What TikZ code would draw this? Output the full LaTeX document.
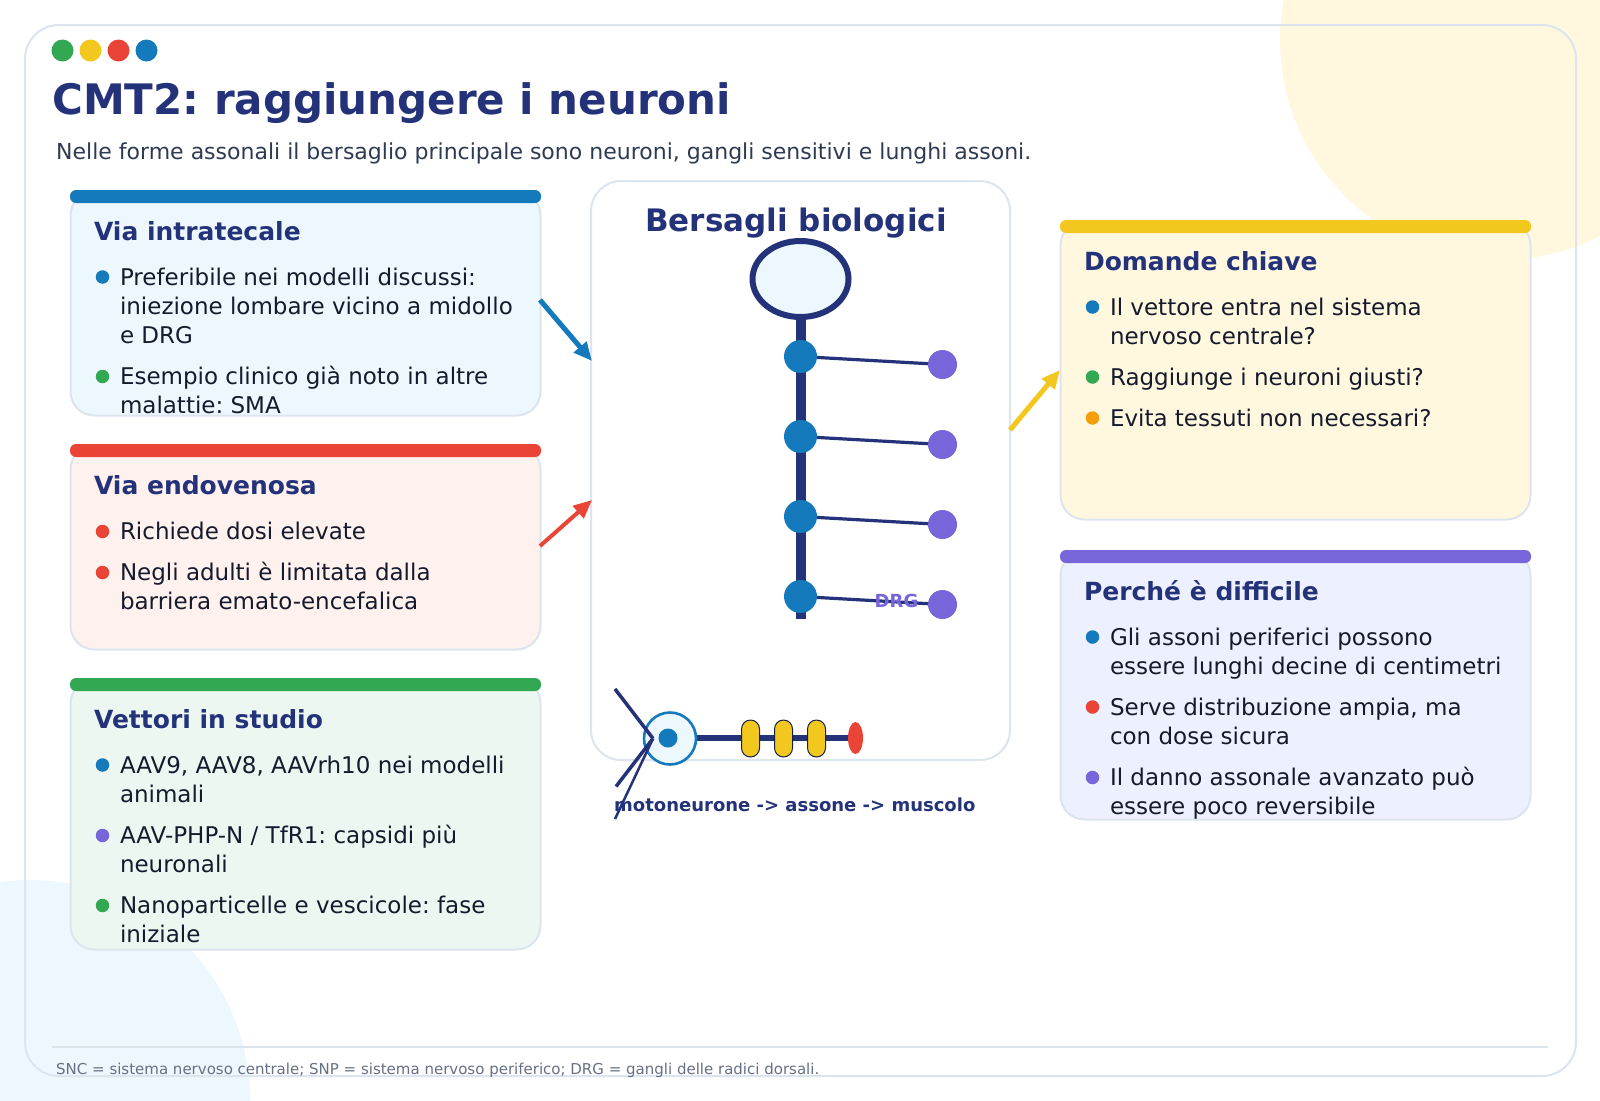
\documentclass[tikz,border=0pt]{standalone}
\usepackage{fontspec}
\setmainfont{DejaVu Sans}
\frenchspacing
\usetikzlibrary{shapes.geometric,arrows.meta}
\definecolor{navy}{HTML}{24327A}
\definecolor{cblue}{HTML}{157ABC}
\definecolor{cred}{HTML}{E94435}
\definecolor{cgreen}{HTML}{32A852}
\definecolor{cyellow}{HTML}{F2C81E}
\definecolor{cpurple}{HTML}{7766D9}
\definecolor{corange}{HTML}{F59E0B}
\definecolor{ink}{HTML}{141B2D}
\definecolor{subink}{HTML}{2F3B52}
\definecolor{footink}{HTML}{667085}
\definecolor{edge}{HTML}{DCE5EE}
\definecolor{fblue}{HTML}{EDF8FE}
\definecolor{fred}{HTML}{FFF1EE}
\definecolor{fgreen}{HTML}{EDF7F1}
\definecolor{fyellow}{HTML}{FFF8DF}
\definecolor{fpurple}{HTML}{EDF0FE}
\tikzset{
  card/.style={rectangle,rounded corners=24pt,draw=edge,line width=2pt,anchor=north west,inner sep=0pt,outer sep=0pt,minimum width=470pt},
  topbar/.style={rectangle,rounded corners=6pt,anchor=north west,inner sep=0pt,outer sep=0pt,minimum width=471pt,minimum height=13pt},
  cardtitle/.style={anchor=base west,inner sep=0pt,outer sep=0pt,text=navy,font=\fontsize{25}{30}\selectfont\bfseries},
  body/.style={anchor=base west,inner sep=0pt,outer sep=0pt,text=ink,font=\fontsize{23}{29}\selectfont},
  bullet/.style={circle,inner sep=0pt,outer sep=0pt,minimum size=13.5pt},
  traffic/.style={circle,inner sep=0pt,outer sep=0pt,minimum size=22pt},
  gang/.style={circle,fill=cblue,inner sep=0pt,outer sep=0pt,minimum size=33pt},
  drgdot/.style={circle,fill=cpurple,inner sep=0pt,outer sep=0pt,minimum size=29pt},
  myelin/.style={rectangle,rounded corners=9pt,fill=cyellow,draw=navy!60!black,line width=1pt,inner sep=0pt,outer sep=0pt,minimum width=18pt,minimum height=37pt},
  branch/.style={draw=navy,line width=3.2pt},
  flow/.style={line width=5pt,-{Triangle[length=18.5pt,width=16pt]}}
}
\begin{document}
\begin{tikzpicture}[x=1pt,y=-1pt]
\useasboundingbox (0,0) rectangle (1600,1100);
\fill[white] (0,0) rectangle (1600,1100);
% background circles
\begin{scope}
\clip (0,0) rectangle (1600,1100);
\fill[fyellow] (1500,40) circle (220pt);
\fill[fblue] (30,1100) circle (220pt);
\end{scope}
% frame
\draw[edge,line width=2pt,rounded corners=34pt] (25,25) rectangle (1576,1076);
% traffic dots
\node[traffic,fill=cgreen] (tl1) at (62.5,50.5) {};
\node[traffic,fill=cyellow] (tl2) at (90.5,50.5) {};
\node[traffic,fill=cred] (tl3) at (118.5,50.5) {};
\node[traffic,fill=cblue] (tl4) at (146.5,50.5) {};
% heading
\node[anchor=base west,inner sep=0pt,text=navy,font=\fontsize{42}{50}\selectfont\bfseries] (title) at (52,114.5) {CMT2: raggiungere i neuroni};
\node[anchor=base west,inner sep=0pt,text=subink,font=\fontsize{22}{26}\selectfont] (subtitle) at (56,159) {Nelle forme assonali il bersaglio principale sono neuroni, gangli sensitivi e lunghi assoni.};
% left cards
\node[card,fill=fblue,minimum height=224pt] (c1) at (70.5,191.5) {};
\node[topbar,fill=cblue] (b1) at (70,190) {};
\node[cardtitle] (c1t) at (94,240) {Via intratecale};
\node[bullet,fill=cblue] (c1d1) at (102.5,277) {};
\node[body] (c1a) at (120,285) {Preferibile nei modelli discussi:};
\node[body] (c1b) at (120,314) {iniezione lombare vicino a midollo};
\node[body] (c1c) at (120,343) {e DRG};
\node[bullet,fill=cgreen] (c1d2) at (102.5,376.5) {};
\node[body] (c1e) at (120,384) {Esempio clinico già noto in altre};
\node[body] (c1f) at (120,413) {malattie: SMA};
%
\node[card,fill=fred,minimum height=204pt] (c2) at (70.5,445.5) {};
\node[topbar,fill=cred] (b2) at (70,444) {};
\node[cardtitle] (c2t) at (94,494) {Via endovenosa};
\node[bullet,fill=cred] (c2d1) at (102.5,531.5) {};
\node[body] (c2a) at (120,539) {Richiede dosi elevate};
\node[bullet,fill=cred] (c2d2) at (102.5,572.5) {};
\node[body] (c2b) at (120,580) {Negli adulti è limitata dalla};
\node[body] (c2c) at (120,609) {barriera emato-encefalica};
%
\node[card,fill=fgreen,minimum height=270pt] (c3) at (70.5,679.5) {};
\node[topbar,fill=cgreen] (b3) at (70,678) {};
\node[cardtitle] (c3t) at (94,728) {Vettori in studio};
\node[bullet,fill=cblue] (c3d1) at (102.5,765) {};
\node[body] (c3a) at (120,773) {AAV9, AAV8, AAVrh10 nei modelli};
\node[body] (c3b) at (120,802) {animali};
\node[bullet,fill=cpurple] (c3d2) at (102.5,835.5) {};
\node[body] (c3c) at (120,843) {AAV-PHP-N / TfR1: capsidi più};
\node[body] (c3d) at (120,872) {neuronali};
\node[bullet,fill=cgreen] (c3d3) at (102.5,905.5) {};
\node[body] (c3e) at (120,913) {Nanoparticelle e vescicole: fase};
\node[body] (c3f) at (120,942) {iniziale};
% right cards
\node[card,fill=fyellow,minimum height=298pt] (c4) at (1060.5,221.5) {};
\node[topbar,fill=cyellow] (b4) at (1060,220) {};
\node[cardtitle] (c4t) at (1084,270) {Domande chiave};
\node[bullet,fill=cblue] (c4d1) at (1092.5,307) {};
\node[body] (c4a) at (1110,315) {Il vettore entra nel sistema};
\node[body] (c4b) at (1110,344) {nervoso centrale?};
\node[bullet,fill=cgreen] (c4d2) at (1092.5,377) {};
\node[body] (c4c) at (1110,385) {Raggiunge i neuroni giusti?};
\node[bullet,fill=corange] (c4d3) at (1092.5,418) {};
\node[body] (c4d) at (1110,426) {Evita tessuti non necessari?};
%
\node[card,fill=fpurple,minimum height=268pt] (c5) at (1060.5,551.5) {};
\node[topbar,fill=cpurple] (b5) at (1060,550) {};
\node[cardtitle] (c5t) at (1084,600) {Perché è difficile};
\node[bullet,fill=cblue] (c5d1) at (1092.5,637) {};
\node[body] (c5a) at (1110,645) {Gli assoni periferici possono};
\node[body] (c5b) at (1110,674) {essere lunghi decine di centimetri};
\node[bullet,fill=cred] (c5d2) at (1092.5,707) {};
\node[body] (c5c) at (1110,715) {Serve distribuzione ampia, ma};
\node[body] (c5d) at (1110,744) {con dose sicura};
\node[bullet,fill=cpurple] (c5d3) at (1092.5,777.5) {};
\node[body] (c5e) at (1110,785) {Il danno assonale avanzato può};
\node[body] (c5f) at (1110,814) {essere poco reversibile};
% centre card
\node[rectangle,rounded corners=30pt,draw=edge,line width=2pt,fill=white,anchor=north west,inner sep=0pt,outer sep=0pt,minimum width=419pt,minimum height=579pt] (c0) at (591,181) {};
\node[anchor=base,inner sep=0pt,text=navy,font=\fontsize{31}{37}\selectfont\bfseries] (c0t) at (796,231) {Bersagli biologici};
% spine
\coordinate (spinetop) at (801,300);
\coordinate (spineend) at (801,618.5);
\draw[navy,line width=10pt] (spinetop) -- (spineend);
\node[ellipse,draw=navy,line width=6pt,fill=fblue,inner sep=0pt,outer sep=0pt,minimum width=96pt,minimum height=76pt] (soma) at (800.5,279) {};
\node[gang] (g1) at (800.5,356.5) {};
\node[gang] (g2) at (800.5,436.5) {};
\node[gang] (g3) at (800.5,516.5) {};
\node[gang] (g4) at (800.5,596.5) {};
\node[drgdot] (p1) at (942.5,364.5) {};
\node[drgdot] (p2) at (942.5,444.5) {};
\node[drgdot] (p3) at (942.5,524.5) {};
\node[drgdot] (p4) at (942.5,604.5) {};
\draw[branch] (g1) -- (p1);
\draw[branch] (g2) -- (p2);
\draw[branch] (g3) -- (p3);
\draw[branch] (g4) -- (p4);
\node[anchor=base,inner sep=0pt,text=cpurple,font=\fontsize{18}{22}\selectfont\bfseries] (drg) at (896.5,607) {DRG};
% motor neuron
\coordinate (axonstart) at (670,738);
\coordinate (axonend) at (850,738);
\draw[navy,line width=5.5pt] (axonstart) -- (axonend);
\node[circle,draw=cblue,line width=2.6pt,fill=fblue,inner sep=0pt,outer sep=0pt,minimum size=52pt] (cell) at (670,738.5) {};
\node[circle,fill=cblue,inner sep=0pt,outer sep=0pt,minimum size=19pt] (nucleus) at (668,738) {};
\node[myelin] (m1) at (750.5,738.5) {};
\node[myelin] (m2) at (783.5,738.5) {};
\node[myelin] (m3) at (816.5,738.5) {};
\node[ellipse,fill=cred,inner sep=0pt,outer sep=0pt,minimum width=15pt,minimum height=32pt] (muscle) at (855.5,738) {};
\coordinate (den) at (653,738.5);
\coordinate (den1) at (615,689);
\coordinate (den2) at (616,786.5);
\coordinate (den3) at (615,819);
\draw[navy,line width=3.5pt] (den1) -- (den);
\draw[navy,line width=3.5pt] (den2) -- (den);
\draw[navy,line width=2.5pt] (den3) -- (den);
\node[anchor=base west,inner sep=0pt,text=navy,font=\fontsize{18}{22}\selectfont\bfseries] (chain) at (614,811) {motoneurone -> assone -> muscolo};
% arrows
\coordinate (a1s) at (540,300);
\coordinate (a1e) at (592,361);
\coordinate (a2s) at (540,546);
\coordinate (a2e) at (592,500);
\coordinate (a3s) at (1010,430);
\coordinate (a3e) at (1060,370);
\draw[flow,cblue] (a1s) -- (a1e);
\draw[flow,cred,line width=4pt] (a2s) -- (a2e);
\draw[flow,cyellow] (a3s) -- (a3e);
% footer
\coordinate (fl) at (52,1047);
\coordinate (fr) at (1548,1047);
\draw[edge,line width=2pt] (fl) -- (fr);
\node[anchor=base west,inner sep=0pt,text=footink,font=\fontsize{15}{18}\selectfont] (foot) at (56,1074) {SNC = sistema nervoso centrale; SNP = sistema nervoso periferico; DRG = gangli delle radici dorsali.};
\end{tikzpicture}
\end{document}
